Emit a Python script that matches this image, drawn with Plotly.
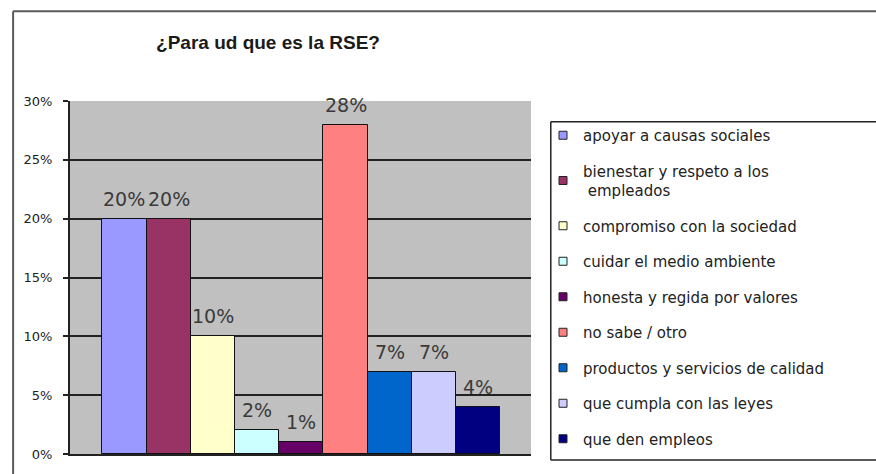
import plotly.graph_objects as go

# Survey answers: "¿Para ud que es la RSE?"
categories = [
    "apoyar a causas sociales",
    "bienestar y respeto a los<br> empleados",
    "compromiso con la sociedad",
    "cuidar el medio ambiente",
    "honesta y regida por valores",
    "no sabe / otro",
    "productos y servicios de calidad",
    "que cumpla con las leyes",
    "que den empleos",
]
percentages = [20, 20, 10, 2, 1, 28, 7, 7, 4]
bar_colors = [
    "#9999FF", "#993366", "#FFFFCC", "#CCFFFF", "#660066",
    "#FF8080", "#0066CC", "#CCCCFF", "#000080",
]
y_ticks = [0, 5, 10, 15, 20, 25, 30]

W, H = 876, 474
# plot area in pixels
PL, PR, PT, PB = 70, 536, 101, 457


def px_x(px):
    return (px - PL) / (PR - PL)


def px_y(py):
    return (PB - py) / (PB - PT)


def hline(x0, x1, y, color, width):
    return dict(type="line", xref="paper", yref="paper",
                x0=px_x(x0), x1=px_x(x1), y0=px_y(y), y1=px_y(y),
                line=dict(color=color, width=width))


def vline(x, y0, y1, color, width):
    return dict(type="line", xref="paper", yref="paper",
                x0=px_x(x), x1=px_x(x), y0=px_y(y0), y1=px_y(y1),
                line=dict(color=color, width=width))


fig = go.Figure()

for i, (name, val, col) in enumerate(zip(categories, percentages, bar_colors)):
    fig.add_trace(go.Bar(
        x=[i], y=[val / 100], width=1,
        marker=dict(color=col, line=dict(color="#111111", width=1)),
        name=name, legendgroup=f"g{i}", showlegend=False,
        hoverinfo="skip",
    ))
    # small square swatch for the legend
    fig.add_trace(go.Scatter(
        x=[None], y=[None], mode="markers",
        marker=dict(symbol="square", size=8, color=col,
                    line=dict(color="#222222", width=1)),
        name=name, legendgroup=f"g{i}", showlegend=True,
    ))
    fig.add_annotation(
        x=i, y=val / 100, text=f"{val}%", showarrow=False,
        yanchor="bottom", yshift=7,
        font=dict(family="DejaVu Sans", size=19, color="#3a3a3a"),
    )

shapes = [
    # outer chart frame (top and left edges)
    hline(12.5, 900, 10.5, "#5a5a5a", 2),
    vline(12.5, 10.5, 490, "#5a5a5a", 2),
    # legend frame
    hline(556, 900, 122, "#222222", 1.5),
    hline(556, 900, 463, "#222222", 1.5),
    vline(556, 122, 463, "#222222", 1.5),
]

fig.update_layout(
    width=W, height=H,
    margin=dict(l=PL, r=W - PR, t=PT, b=H - PB, pad=0),
    paper_bgcolor="white",
    plot_bgcolor="#C0C0C0",
    barmode="overlay",
    bargap=0,
    title=dict(
        text="¿Para ud que es la RSE?",
        x=268 / W, xref="container", xanchor="center",
        y=1 - 42 / H, yref="container", yanchor="middle",
        font=dict(family="Liberation Sans", size=19, color="#1a1a1a",
                  weight="bold"),
    ),
    xaxis=dict(
        range=[-1.231, 9.194], showticklabels=False, showgrid=False,
        zeroline=False, showline=True, linecolor="#222222", linewidth=2,
        ticks="", fixedrange=True,
    ),
    yaxis=dict(
        range=[0, 0.30], tickvals=[t / 100 for t in y_ticks],
        ticktext=[f"{t}%" for t in y_ticks],
        showgrid=True, gridcolor="#222222", gridwidth=2,
        zeroline=False, showline=True, linecolor="#222222", linewidth=2,
        ticks="outside", ticklen=5, tickwidth=2, tickcolor="#222222",
        ticklabelstandoff=8,
        tickfont=dict(family="DejaVu Sans", size=13, color="#222222"),
        fixedrange=True,
    ),
    legend=dict(
        xref="container", yref="container",
        x=543 / W, xanchor="left", y=1 - 119 / H, yanchor="top",
        bgcolor="rgba(0,0,0,0)", borderwidth=0,
        font=dict(family="DejaVu Sans", size=15, color="#222222"),
        traceorder="grouped", tracegroupgap=13, itemwidth=30,
        maxheight=470,
    ),
    shapes=shapes,
    showlegend=True,
)

fig.write_html("out.html")
